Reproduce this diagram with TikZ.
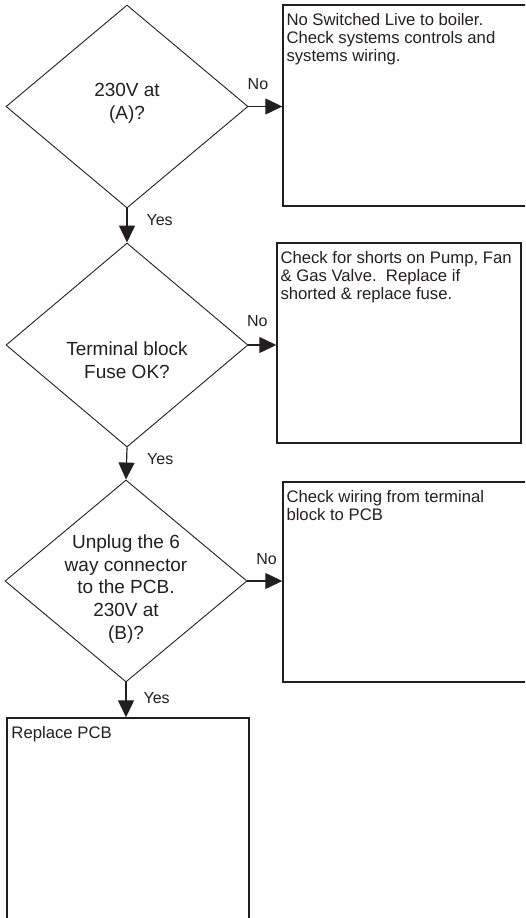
\documentclass[tikz,border=0pt]{standalone}
\usepackage{fontspec}
\setmainfont{Liberation Sans}
\usetikzlibrary{shapes.geometric,arrows.meta}
\definecolor{ink}{RGB}{35,31,32}

\tikzset{
  decision/.style={draw=ink,diamond,line width=0.9pt,inner sep=0pt,
    minimum width=242pt,minimum height=203pt},
  qtext/.style={text=ink,align=center,inner sep=0pt,
    font=\fontsize{19}{22.7}\selectfont},
  action/.style={draw=ink,rectangle,line width=1.4pt,inner sep=0pt},
  btext/.style={text=ink,align=left,anchor=north west,inner xsep=4pt,inner ysep=8.5pt,
    font=\fontsize{16.7}{18.3}\selectfont},
  flow/.style={draw=ink,line width=1.2pt,-{Triangle[length=17pt,width=16pt]}},
  lbl/.style={text=ink,inner sep=0pt,font=\fontsize{16}{18}\selectfont}
}

\begin{document}
\begin{tikzpicture}[x=1pt,y=1pt]
  \clip (0,0) rectangle (525,-918);

  % decisions
  \node[decision] (d1) at (127,-106.5) {};
  \node[decision,minimum height=204pt] (d2) at (127,-345) {};
  \node[decision,minimum height=202pt] (d3) at (126,-581) {};
  \node[qtext,yshift=3pt] (q1) at (d1) {230V at\\(A)?};
  \node[qtext,yshift=-15pt] (q2) at (d2) {Terminal block\\Fuse OK?};
  \node[qtext,yshift=-8pt] (q3) at (d3) {Unplug the 6\\way connector\\to the PCB.\\230V at\\(B)?};

  % actions
  \node[action,minimum width=247pt,minimum height=201pt] (b1) at (406.5,-105.5) {};
  \node[action,minimum width=244pt,minimum height=200pt] (b2) at (399,-343) {};
  \node[action,minimum width=247pt,minimum height=200pt] (b3) at (406.5,-582) {};
  \node[action,minimum width=242pt,minimum height=207pt] (b4) at (128,-821.5) {};
  \node[btext] (t1) at (b1.north west) {No Switched Live to boiler.\\Check systems controls and\\systems wiring.};
  \node[btext] (t2) at (b2.north west) {Check for shorts on Pump, Fan\\\& Gas Valve.\ \ Replace if\\shorted \& replace fuse.};
  \node[btext] (t3) at (b3.north west) {Check wiring from terminal\\block to PCB};
  \node[btext,inner xsep=5pt] (t4) at (b4.north west) {Replace PCB};

  % no branches
  \draw[flow] (d1.east) -- (d1.east -| b1.west)
    node[lbl,pos=.28,anchor=south,yshift=16pt] (n1) {No};
  \draw[flow] (d2.east) -- (d2.east -| b2.west)
    node[lbl,pos=.32,anchor=south,yshift=18pt] (n2) {No};
  \draw[flow] (d3.east) -- (d3.east -| b3.west)
    node[lbl,pos=.55,anchor=south,yshift=16pt] (n3) {No};

  % yes branches
  \draw[flow] (d1.south) -- (d2.north)
    node[lbl,pos=.33,anchor=west,xshift=19pt] (y1) {Yes};
  \draw[flow] (d2.south) -- (d3.north)
    node[lbl,pos=.36,anchor=west,xshift=20pt] (y2) {Yes};
  \draw[flow] (d3.south) -- (d3.south |- b4.north)
    node[lbl,pos=.44,anchor=west,xshift=17pt] (y3) {Yes};
\end{tikzpicture}
\end{document}
